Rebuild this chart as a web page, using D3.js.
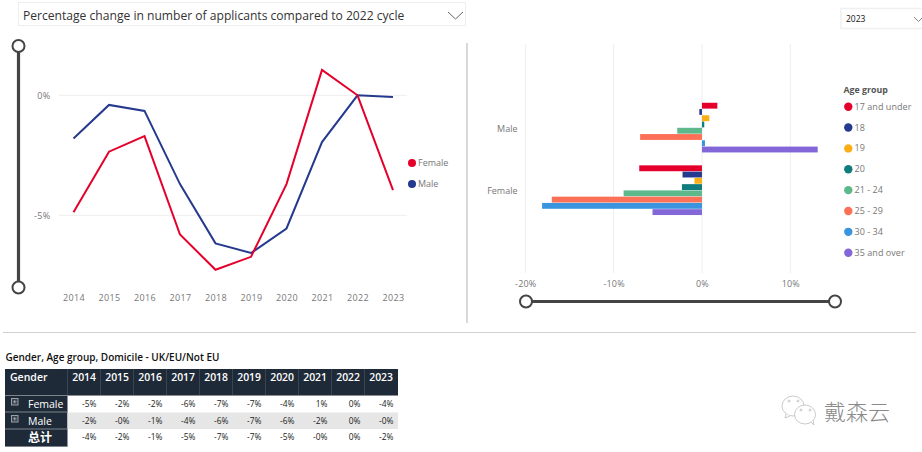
<!DOCTYPE html>
<html><head><meta charset="utf-8">
<script src="https://cdn.jsdelivr.net/npm/d3@7"></script>
<style>html,body{margin:0;padding:0;background:#fff;overflow:hidden}text{font-family:"Open Sans","Noto Sans",sans-serif}</style>
</head><body><svg id="c" width="922" height="452"></svg>
<script>
const years=[2014,2015,2016,2017,2018,2019,2020,2021,2022,2023];
const femaleLine=[-4.87,-2.35,-1.7,-5.8,-7.27,-6.73,-3.7,1.06,0,-3.95];
const maleLine=[-1.8,-0.4,-0.65,-3.7,-6.17,-6.57,-5.55,-1.95,0,-0.07];
const genders=["Male","Female"];
const ageGroups=["17 and under","18","19","20","21 - 24","25 - 29","30 - 34","35 and over"];
const ageColors=["#E4002B","#253A8E","#FBAF17","#107C7E","#5DB88B","#FD7058","#3A94DE","#8367D8"];
const maleBars=[1.74,-0.3,0.83,0.26,-2.8,-7.0,0.34,13.1];
const femaleBars=[-7.1,-2.2,-0.85,-2.27,-8.87,-17.0,-18.1,-5.6];
const tableFemale=["-5%","-2%","-2%","-6%","-7%","-7%","-4%","1%","0%","-4%"];
const tableMale=["-2%","-0%","-1%","-4%","-6%","-7%","-6%","-2%","0%","-0%"];
const tableTotal=["-4%","-2%","-1%","-5%","-7%","-7%","-5%","-0%","0%","-2%"];
const selectorTitle="Percentage change in number of applicants compared to 2022 cycle";
const tableTitle="Gender, Age group, Domicile - UK/EU/Not EU";

const svg=d3.select("#c");
const RED="#E4002B",NAVY="#253A8E",GREY="#777";
const TICK=9;

// selector boxes
svg.append("rect").attr("x",18.5).attr("y",2.5).attr("width",447).attr("height",23).attr("fill","#fff").attr("stroke","#eee");
svg.append("text").attr("x",23).attr("y",20).attr("font-size",12.1).attr("fill","#333").text(selectorTitle);
svg.append("path").attr("d","M448 12l7.5 7 7.5-7").attr("fill","none").attr("stroke","#666");
svg.append("rect").attr("x",841).attr("y",8.5).attr("width",90).attr("height",20).attr("fill","#fff").attr("stroke","#f0f0f0").attr("stroke-width",1.5);
svg.append("text").attr("x",846).attr("y",22).attr("font-size",8.5).attr("fill","#111").text("2023");
svg.append("path").attr("d","M914 17l4.5 4.5 4.5-4.5").attr("fill","none").attr("stroke","#888");

// dividers
svg.append("line").attr("x1",467).attr("x2",467).attr("y1",43).attr("y2",323).attr("stroke","#d9d9d9").attr("stroke-width",2);
svg.append("line").attr("x1",3).attr("x2",916).attr("y1",332.5).attr("y2",332.5).attr("stroke","#d0d0d0");

// line chart
const xL=d3.scalePoint().domain(years).range([73.5,393]);
const yL=d3.scaleLinear().domain([-5,0]).range([215.3,95.3]);
svg.append("g").selectAll("line").data([0,-5]).join("line").attr("x1",59).attr("x2",407).attr("y1",d=>yL(d)).attr("y2",d=>yL(d)).attr("stroke","#eeeeee");
const axL=svg.append("g").attr("transform","translate(0,298)").call(d3.axisBottom(xL).tickSize(0).tickPadding(0));
axL.select(".domain").remove();
axL.selectAll("text").attr("font-size",TICK).attr("letter-spacing",.3).attr("fill",GREY).attr("dy","0.32em").attr("y",0);
const ayL=svg.append("g").attr("transform","translate(50.5,0)").call(d3.axisLeft(yL).tickValues([0,-5]).tickSize(0).tickPadding(0).tickFormat(d=>d+"%"));
ayL.select(".domain").remove();
ayL.selectAll("text").attr("font-size",TICK).attr("letter-spacing",.3).attr("fill",GREY);
const line=d3.line().x((d,i)=>xL(years[i])).y(d=>yL(d));
svg.append("path").attr("d",line(maleLine)).attr("fill","none").attr("stroke",NAVY).attr("stroke-width",2);
svg.append("path").attr("d",line(femaleLine)).attr("fill","none").attr("stroke",RED).attr("stroke-width",2);
[["Female",RED,163],["Male",NAVY,184]].forEach(([t,c,y])=>{
  svg.append("circle").attr("cx",412).attr("cy",y).attr("r",4).attr("fill",c);
  svg.append("text").attr("x",418).attr("y",y+3).attr("font-size",TICK).attr("fill",GREY).text(t);
});

// sliders
function slider(x1,y1,x2,y2){
  svg.append("line").attr("x1",x1).attr("y1",y1).attr("x2",x2).attr("y2",y2).attr("stroke","#444").attr("stroke-width",3.2);
  [[x1,y1],[x2,y2]].forEach(([x,y])=>svg.append("circle").attr("cx",x).attr("cy",y).attr("r",6).attr("fill","#fff").attr("stroke","#444").attr("stroke-width",2));
}
slider(18.5,46,18.5,287.5);
slider(526,301.5,835,301.5);

// bar chart
const xB=d3.scaleLinear().domain([-20,10]).range([525.3,790.3]);
const yG=d3.scaleBand().domain(genders).range([96.5,221.7]).paddingInner(0.2).paddingOuter(0.1);
const yA=d3.scaleBand().domain(ageGroups).range([0,yG.bandwidth()]);
svg.append("g").selectAll("line").data([-20,-10,0,10]).join("line").attr("x1",d=>xB(d)).attr("x2",d=>xB(d)).attr("y1",44).attr("y2",273).attr("stroke","#eeeeee");
const axB=svg.append("g").attr("transform","translate(0,284)").call(d3.axisBottom(xB).tickValues([-20,-10,0,10]).tickSize(0).tickPadding(0).tickFormat(d=>d+"%"));
axB.select(".domain").remove();
axB.selectAll("text").attr("font-size",TICK).attr("letter-spacing",.2).attr("fill",GREY).attr("dy","0.32em").attr("y",0);
const ayB=svg.append("g").attr("transform","translate(517.5,1)").call(d3.axisLeft(yG).tickSize(0).tickPadding(0));
ayB.select(".domain").remove();
ayB.selectAll("text").attr("font-size",TICK).attr("fill",GREY);
[["Male",maleBars],["Female",femaleBars]].forEach(([g,vals])=>{
  svg.append("g").attr("transform",`translate(0,${yG(g)})`).selectAll("rect").data(vals).join("rect")
    .attr("x",d=>xB(Math.min(0,d))).attr("width",d=>Math.abs(xB(d)-xB(0)))
    .attr("y",(d,i)=>yA(ageGroups[i])).attr("height",yA.bandwidth()-0.4)
    .attr("fill",(d,i)=>ageColors[i]);
});
svg.append("text").attr("x",843.5).attr("y",93).attr("font-size",8.8).attr("font-weight",700).attr("fill","#555").text("Age group");
const legY=d3.scalePoint().domain(ageGroups).range([106.7,252.7]);
ageGroups.forEach((a,i)=>{
  svg.append("circle").attr("cx",848.3).attr("cy",legY(a)).attr("r",4.2).attr("fill",ageColors[i]);
  svg.append("text").attr("x",854.5).attr("y",legY(a)+3).attr("font-size",TICK).attr("letter-spacing",.05).attr("fill",GREY).text(a);
});

// table
const DARK="#1F2A38";
svg.append("text").attr("x",5.5).attr("y",361).attr("font-size",10).attr("font-weight",600).attr("fill","#111").text(tableTitle);
svg.append("rect").attr("x",5).attr("y",369).attr("width",393).attr("height",26).attr("fill",DARK);
svg.append("rect").attr("x",5).attr("y",396).attr("width",62.5).attr("height",50.5).attr("fill",DARK);
svg.append("rect").attr("x",67.5).attr("y",412.5).attr("width",330.5).attr("height",16.5).attr("fill","#e6e6e6");
const xT=d3.scaleBand().domain(years).range([68,398]);
svg.append("text").attr("x",10).attr("y",381).attr("font-size",10.5).attr("font-weight",600).attr("fill","#fff").text("Gender");
years.forEach(y=>{
  svg.append("text").attr("x",xT(y)+xT.bandwidth()-5).attr("y",381).attr("text-anchor","end").attr("font-size",10.4).attr("font-weight",600).attr("fill","#fff").text(y);
  svg.append("line").attr("x1",xT(y)-.5).attr("x2",xT(y)-.5).attr("y1",369).attr("y2",395).attr("stroke","#3a4552");
});
svg.append("line").attr("x1",5).attr("x2",398).attr("y1",395.5).attr("y2",395.5).attr("stroke","#8a8f96");
[[395.5],[412],[429],[446.5]].forEach(([y])=>svg.append("line").attr("x1",5).attr("x2",67.5).attr("y1",y).attr("y2",y).attr("stroke","#7d838b"));
[["Female",tableFemale,408,true],["Male",tableMale,425,true],["总计",tableTotal,441.5,false]].forEach(([n,vals,y,ex])=>{
  if(ex){
    svg.append("rect").attr("x",11.5).attr("y",y-9.5).attr("width",6.5).attr("height",6.5).attr("fill","#39434f").attr("stroke","#9aa0a6");
    svg.append("path").attr("d",`M13 ${y-6.2}h3.5M14.75 ${y-8}v3.5`).attr("stroke","#bbb").attr("stroke-width",.7);
  }
  svg.append("text").attr("x",28).attr("y",y).attr("font-size",n==="总计"?12:10.5).attr("font-weight",n==="总计"?700:500).attr("fill","#fff")
    .style("font-family",'"Open Sans","Noto Sans CJK SC",sans-serif').text(n);
  vals.forEach((v,i)=>svg.append("text").attr("x",xT(years[i])+xT.bandwidth()-4.5).attr("y",y-1.5).attr("text-anchor","end").attr("font-size",8.4).attr("fill","#222").text(v));
});

// watermark
const wm=svg.append("g").attr("fill","#fff").attr("stroke","#b5b5b5").attr("stroke-width",.7);
wm.append("ellipse").attr("cx",793).attr("cy",406).attr("rx",11).attr("ry",10);
wm.append("path").attr("d","M786 414l-1 4 5-2");
wm.append("ellipse").attr("cx",805).attr("cy",414.5).attr("rx",10.5).attr("ry",9.5);
wm.append("path").attr("d","M811 422l3 3-1-5");
[[789,401],[798,401],[801,410],[810,410]].forEach(([x,y])=>wm.append("circle").attr("cx",x).attr("cy",y).attr("r",1));
svg.append("text").attr("x",824).attr("y",420).attr("font-size",22).attr("font-weight",300).attr("fill","#8a8a8a")
  .style("font-family",'"Noto Sans CJK SC",sans-serif').text("戴森云");
</script></body></html>
